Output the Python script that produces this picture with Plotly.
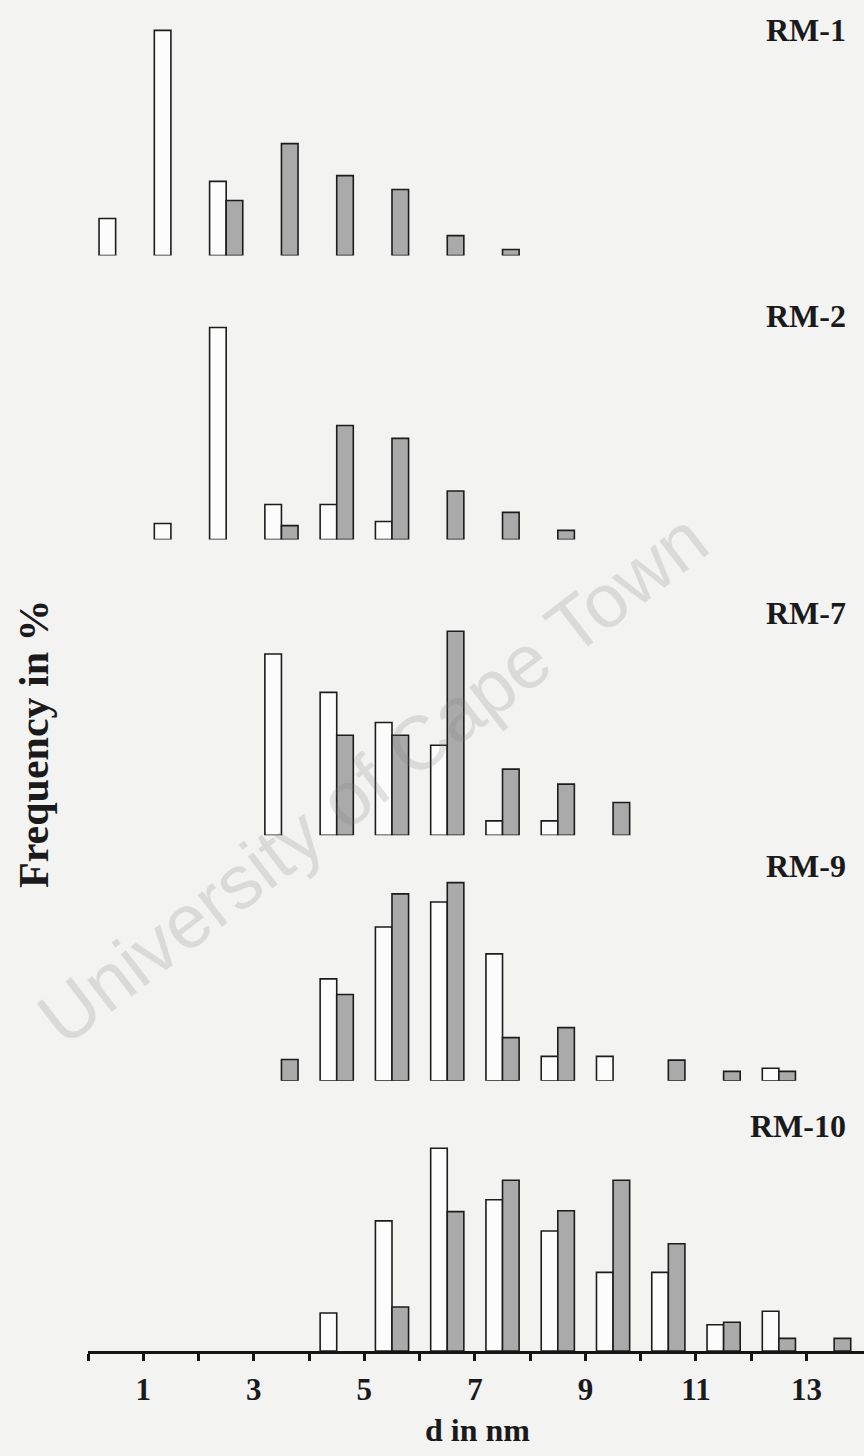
import plotly.graph_objects as go

# Particle-size bins (nm), bar pairs centred on each bin
d_bins = [0.5, 1.5, 2.5, 3.5, 4.5, 5.5, 6.5, 7.5, 8.5, 9.5, 10.5, 11.5, 12.5, 13.5]

# Frequency in % per sample: open bars and shaded bars
rm1_open = [11.0, 66.8, 22.0, None, None, None, None, None, None, None, None, None, None, None]
rm1_shaded = [None, None, 16.3, 33.2, 23.7, 19.6, 5.9, 1.8, None, None, None, None, None, None]

rm2_open = [None, 5.1, 67.3, 11.1, 11.1, 5.7, None, None, None, None, None, None, None, None]
rm2_shaded = [None, None, None, 4.4, 36.2, 32.1, 15.4, 8.6, 2.9, None, None, None, None, None]

rm7_open = [None, None, None, 32.6, 25.7, 20.3, 16.2, 2.6, 2.6, None, None, None, None, None]
rm7_shaded = [None, None, None, None, 18.0, 18.0, 36.7, 11.9, 9.2, 5.9, None, None, None, None]

rm9_open = [None, None, None, None, 16.3, 24.6, 28.6, 20.3, 3.9, 3.9, None, None, 2.0, None]
rm9_shaded = [None, None, None, 3.4, 13.8, 29.9, 31.7, 6.9, 8.5, None, 3.3, 1.5, 1.5, None]

rm10_open = [None, None, None, None, 4.5, 15.4, 24.0, 17.9, 14.2, 9.3, 9.3, 3.1, 4.7, None]
rm10_shaded = [None, None, None, None, None, 5.2, 16.5, 20.2, 16.6, 20.2, 12.7, 3.4, 1.5, 1.5]

sample_names = ["RM-1", "RM-2", "RM-7", "RM-9", "RM-10"]
tick_values = list(range(0, 14))
tick_labels = [f"<b>{v}</b>" if v % 2 == 1 else "" for v in tick_values]

panels = [
    (rm1_open, rm1_shaded),
    (rm2_open, rm2_shaded),
    (rm7_open, rm7_shaded),
    (rm9_open, rm9_shaded),
    (rm10_open, rm10_shaded),
]

# Layout geometry (pixels from the top of the page)
W, H = 864, 1456
plot_bottom = 1351          # x-axis line / baseline of the lowest panel
margin_b = H - plot_bottom

def py(px):
    """page pixel row -> paper fraction of the plotting area"""
    return (plot_bottom - px) / plot_bottom

# baseline row, top row, pixels per percent for every panel
panel_geom = [
    (255.5, 0.0, 3.37),
    (539.5, 290.0, 3.15),
    (835.3, 600.0, 5.56),
    (1080.7, 860.0, 6.25),
    (1351.0, 1110.0, 8.45),
]
label_rows = [30, 316, 613, 866, 1126]

BG = "#f3f3f2"
OPEN_FILL = "#fcfcfc"
SHADE_FILL = "#aaaaaa"
EDGE = "#1c1c1c"
SERIF = "Liberation Serif, Times New Roman, serif"

fig = go.Figure()
layout_axes = {}
for i, ((open_vals, shaded_vals), (base, top, ppp)) in enumerate(zip(panels, panel_geom)):
    yname = "y" if i == 0 else f"y{i + 1}"
    fig.add_trace(go.Bar(x=d_bins, y=open_vals, xaxis="x", yaxis=yname,
                         marker=dict(color=OPEN_FILL, line=dict(color=EDGE, width=1.6)),
                         showlegend=False, hoverinfo="skip"))
    fig.add_trace(go.Bar(x=d_bins, y=shaded_vals, xaxis="x", yaxis=yname,
                         marker=dict(color=SHADE_FILL, line=dict(color=EDGE, width=1.6)),
                         showlegend=False, hoverinfo="skip"))
    key = "yaxis" if i == 0 else f"yaxis{i + 1}"
    layout_axes[key] = dict(
        domain=[py(base), py(top)],
        range=[0, (base - top) / ppp],
        anchor="x", visible=False, fixedrange=True,
    )

annotations = []
for name, row in zip(sample_names, label_rows):
    annotations.append(dict(
        text=f"<b>{name}</b>", xref="paper", yref="paper",
        x=1.0 - 16 / (W - 88), y=py(row), xanchor="right", yanchor="middle",
        showarrow=False, font=dict(family=SERIF, size=32, color="#1a1a1a"),
    ))

# axis titles
annotations.append(dict(
    text="<b>d in nm</b>", xref="x", yref="paper", x=5 + (477 - 364) / 55.3,
    y=py(1430), xanchor="center", yanchor="middle", showarrow=False,
    font=dict(family=SERIF, size=32, color="#1a1a1a"),
))
annotations.append(dict(
    text="<b>Frequency in %</b>", xref="paper", yref="paper", x=(34 - 88) / (W - 88),
    y=py(744), xanchor="center", yanchor="middle", textangle=-90, showarrow=False,
    font=dict(family=SERIF, size=42, color="#1a1a1a"),
))

# faint diagonal watermark
annotations.append(dict(
    text="University of Cape Town", xref="paper", yref="paper",
    x=(372 - 88) / (W - 88), y=py(778), xanchor="center", yanchor="middle",
    textangle=-37.5, showarrow=False,
    font=dict(family="Liberation Sans, Arial, sans-serif", size=76,
              color="rgba(120,120,120,0.2)"),
))

fig.update_layout(
    width=W, height=H,
    margin=dict(l=88, r=0, t=0, b=margin_b),
    paper_bgcolor=BG, plot_bgcolor=BG,
    barmode="group", bargap=0.4, bargroupgap=0.0,
    xaxis=dict(
        range=[0.0, 14.04], anchor="y5", domain=[0, 1],
        showline=True, linecolor="#151515", linewidth=3,
        tickmode="array", tickvals=tick_values, ticktext=tick_labels,
        ticks="outside", ticklen=7, tickwidth=3, tickcolor="#151515",
        showgrid=False, zeroline=False, fixedrange=True,
        tickfont=dict(family=SERIF, size=31, color="#1a1a1a"),
        ticklabelstandoff=2,
    ),
    annotations=annotations,
    **layout_axes,
)

fig.write_html("out.html")
